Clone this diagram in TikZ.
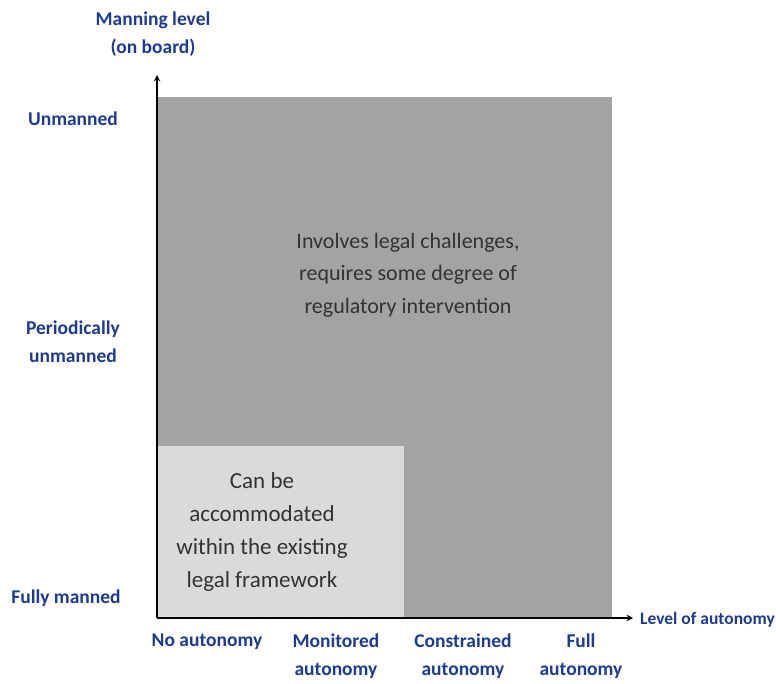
\documentclass[tikz,border=0pt]{standalone}
\usepackage{fontspec}
\setmainfont{Carlito}
\definecolor{axisblue}{HTML}{1F3A8F}
\definecolor{darkbox}{HTML}{A3A3A3}
\definecolor{lightbox}{HTML}{DADADA}
\begin{document}
\begin{tikzpicture}
  [x=1pt, y=-1pt,
   every node/.style={inner sep=0pt, align=center},
   axislabel/.style={text=axisblue, font=\bfseries\fontsize{19.5}{28}\selectfont},
   boxtext/.style={text=black!80, font=\fontsize{22}{32.5}\selectfont}]
  \useasboundingbox (0,0) rectangle (776,684);
  % regions
  \fill[darkbox] (158,97) rectangle (612,617);
  \fill[lightbox] (158,446) rectangle (404,617);
  % axes
  \coordinate (origin) at (157,618);
  \coordinate (ytip) at (157,75);
  \coordinate (xtip) at (633,618);
  \draw[line width=1.8pt, -stealth] (origin) -- (ytip);
  \draw[line width=1.8pt, -stealth] (origin) -- (xtip);
  % axis titles
  \node[axislabel] (ytitle) at (153,34) {Manning level\\(on board)};
  \node[axislabel, font=\bfseries\fontsize{17.5}{24}\selectfont, anchor=west] (xtitle) at (640,620) {Level of autonomy};
  % manning levels
  \node[axislabel] (unmanned) at (73,119) {Unmanned};
  \node[axislabel] (periodic) at (73,342) {Periodically\\unmanned};
  \node[axislabel] (fully) at (66,598) {Fully manned};
  % autonomy levels
  \node[axislabel] (noauto) at (207,642) {No autonomy};
  \node[axislabel] (monitored) at (336,656) {Monitored\\autonomy};
  \node[axislabel] (constrained) at (463,656) {Constrained\\autonomy};
  \node[axislabel] (fullauto) at (581,656) {Full\\autonomy};
  % region texts
  \node[boxtext] (legal) at (408,275) {Involves legal challenges,\\requires some degree of\\regulatory intervention};
  \node[boxtext, font=\fontsize{23}{33}\selectfont] (existing) at (262,532) {Can be\\accommodated\\within the existing\\legal framework};
\end{tikzpicture}
\end{document}
